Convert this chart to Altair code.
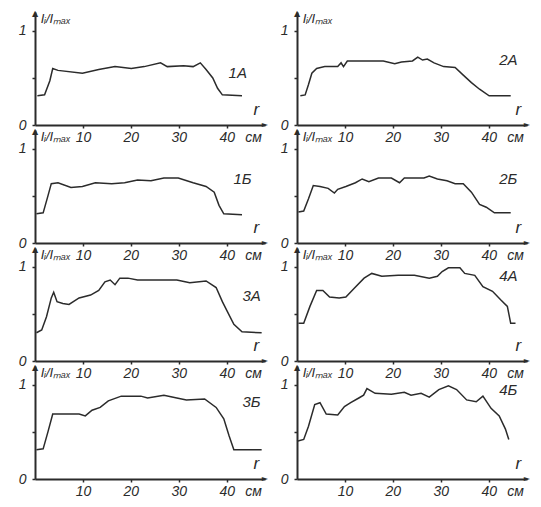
import altair as alt
import pandas as pd

INK = "#2b2b2b"
FONT = "Liberation Sans"

# ---- curves: radius r (cm) and relative intensity Ii/Imax ----
R_1A = [0.5, 2.0, 3.1, 3.7, 4.8, 9.9, 13.3, 16.7, 20.1, 22.8, 26.2, 27.6, 31.0, 33.0, 34.5, 35.7, 37.1, 38.1, 39.1, 43.2]
V_1A = [0.31, 0.32, 0.47, 0.60, 0.58, 0.55, 0.59, 0.62, 0.60, 0.62, 0.66, 0.62, 0.63, 0.62, 0.66, 0.59, 0.50, 0.39, 0.32, 0.31]

R_2A = [0.7, 1.7, 2.4, 3.1, 4.1, 5.8, 8.5, 9.2, 9.7, 10.5, 14.3, 18.0, 20.4, 21.8, 24.1, 25.2, 26.2, 27.2, 28.6, 30.6, 33.0, 34.7, 36.4, 38.1, 40.1, 44.6]
V_2A = [0.31, 0.32, 0.43, 0.55, 0.60, 0.62, 0.62, 0.66, 0.62, 0.68, 0.68, 0.68, 0.65, 0.67, 0.68, 0.72, 0.69, 0.70, 0.66, 0.62, 0.61, 0.53, 0.45, 0.38, 0.31, 0.31]

R_1B = [0.3, 1.7, 2.7, 3.4, 4.8, 7.5, 9.9, 12.6, 16.0, 18.7, 21.4, 24.2, 26.9, 29.9, 33.0, 35.7, 37.4, 38.4, 39.4, 43.2]
V_1B = [0.31, 0.32, 0.50, 0.63, 0.64, 0.59, 0.60, 0.64, 0.63, 0.64, 0.67, 0.66, 0.69, 0.69, 0.64, 0.60, 0.54, 0.40, 0.31, 0.30]

R_2B = [0.3, 1.4, 2.4, 3.4, 4.8, 6.5, 7.8, 8.5, 10.2, 12.2, 13.6, 15.0, 17.0, 19.7, 21.4, 22.4, 26.5, 27.6, 29.3, 31.3, 33.0, 34.7, 36.4, 38.1, 39.5, 41.2, 44.6]
V_2B = [0.33, 0.34, 0.47, 0.61, 0.60, 0.58, 0.53, 0.57, 0.60, 0.64, 0.68, 0.65, 0.69, 0.69, 0.64, 0.69, 0.69, 0.71, 0.68, 0.66, 0.63, 0.63, 0.54, 0.41, 0.38, 0.32, 0.32]

R_3A = [0.3, 1.4, 2.4, 3.4, 3.9, 4.6, 5.8, 7.1, 9.2, 11.6, 13.3, 14.6, 15.7, 16.7, 17.7, 19.4, 21.4, 25.5, 29.6, 32.3, 35.7, 37.8, 39.1, 40.1, 41.5, 43.2, 47.3]
V_3A = [0.30, 0.33, 0.47, 0.67, 0.73, 0.63, 0.61, 0.60, 0.67, 0.70, 0.75, 0.84, 0.86, 0.81, 0.88, 0.88, 0.86, 0.86, 0.86, 0.83, 0.85, 0.78, 0.63, 0.53, 0.39, 0.31, 0.30]

R_4A = [0.3, 1.4, 2.7, 4.1, 5.4, 6.8, 8.8, 10.2, 11.9, 14.0, 15.6, 17.7, 21.1, 24.5, 27.6, 29.3, 30.3, 31.6, 34.0, 35.0, 37.1, 38.8, 40.8, 42.5, 43.9, 44.6, 45.6]
V_4A = [0.40, 0.40, 0.58, 0.75, 0.75, 0.68, 0.67, 0.68, 0.77, 0.88, 0.93, 0.90, 0.91, 0.91, 0.88, 0.90, 0.95, 0.99, 0.99, 0.93, 0.91, 0.79, 0.74, 0.65, 0.58, 0.40, 0.40]

R_3B = [0.3, 1.7, 2.7, 3.7, 5.1, 9.2, 10.5, 11.9, 13.6, 15.3, 18.0, 22.1, 23.5, 26.9, 29.6, 31.6, 35.4, 37.8, 39.4, 40.5, 41.5, 47.3]
V_3B = [0.31, 0.32, 0.50, 0.69, 0.69, 0.69, 0.67, 0.73, 0.76, 0.83, 0.88, 0.88, 0.86, 0.89, 0.86, 0.84, 0.85, 0.76, 0.64, 0.46, 0.31, 0.31]

R_4B = [0.0, 1.4, 2.4, 3.7, 4.8, 6.1, 8.5, 9.9, 11.2, 12.9, 13.9, 14.6, 16.3, 19.7, 22.4, 23.8, 25.9, 27.6, 29.6, 31.6, 33.3, 35.4, 37.4, 38.8, 40.5, 42.2, 43.5, 44.2]
V_4B = [0.40, 0.42, 0.56, 0.79, 0.81, 0.69, 0.68, 0.77, 0.81, 0.86, 0.89, 0.96, 0.91, 0.90, 0.92, 0.89, 0.91, 0.87, 0.95, 0.99, 0.95, 0.84, 0.82, 0.88, 0.75, 0.67, 0.53, 0.42]

# panel order: row by row, left then right
NAMES = ["1А", "2А", "1Б", "2Б", "3А", "4А", "3Б", "4Б"]
CURVES_R = [R_1A, R_2A, R_1B, R_2B, R_3A, R_4A, R_3B, R_4B]
CURVES_V = [V_1A, V_2A, V_1B, V_2B, V_3A, V_4A, V_3B, V_4B]
NAME_R = [40.4, 42.2, 41.4, 42.2, 43.3, 42.2, 43.3, 42.2]
NAME_V = [0.55, 0.69, 0.68, 0.68, 0.69, 0.90, 0.82, 0.94]

TICKS_R = [10, 20, 30, 40]
TICKS_V = [0, 0.5, 1]
Y_TITLE = "Iᵢ/Iₘₐₓ"
X_NAME = "r"
UNIT = "см"
R_MAX = 48
V_MAX = 1.2

xscale = alt.Scale(domain=[0, R_MAX], nice=False, zero=False)
yscale = alt.Scale(domain=[0, V_MAX], nice=False)


def one_text(r, v, t, font=FONT, style="italic", color=INK, **kw):
    df = pd.DataFrame({"r": [r], "v": [v], "t": [t]})
    return alt.Chart(df).mark_text(font=font, fontStyle=style, color=color, **kw).encode(
        x="r:Q", y="v:Q", text="t:N")


def panel(i):
    curve = pd.DataFrame({"r": CURVES_R[i], "v": CURVES_V[i]})
    X = alt.X("r:Q", scale=xscale,
              axis=alt.Axis(values=TICKS_R, title=None, tickSize=3, labelPadding=2))
    Y = alt.Y("v:Q", scale=yscale,
              axis=alt.Axis(values=TICKS_V, title=None, tickSize=3, labelPadding=6,
                            labelExpr="datum.value == 0 ? '0' : (datum.value == 1 ? '1' : '')"))
    line = alt.Chart(curve).mark_line(color=INK, strokeWidth=1.5).encode(X, Y)

    up = one_text(0, V_MAX, "▲", font="DejaVu Sans", style="normal", fontSize=8,
                  align="center", baseline="top", dy=-2)
    right = one_text(R_MAX, 0, "►", font="DejaVu Sans", style="normal", fontSize=8,
                     align="right", baseline="middle", dx=3)

    tag = one_text(NAME_R[i], NAME_V[i], NAMES[i], fontSize=15, align="left", baseline="middle")
    ytitle = one_text(1.2, 1.13, Y_TITLE, fontSize=13, align="left", baseline="middle")
    unit = one_text(45.6, 0, UNIT, fontSize=14, align="center", baseline="top", dy=6)
    rname = one_text(46.2, 0, X_NAME, fontSize=17, align="center", baseline="bottom", dy=-6)

    return alt.layer(line, up, right, tag, ytitle, unit, rname).properties(width=230, height=113)


chart = alt.concat(
    *[panel(i) for i in range(8)], columns=2,
    spacing={"row": 5, "column": 32}, bounds="flush"
).properties(
    padding={"left": 10, "top": 2, "right": 0, "bottom": 0}
).configure_view(stroke=None).configure_axis(
    domainColor=INK, domainWidth=2, tickColor=INK, tickWidth=1.5,
    labelColor=INK, labelFont=FONT, labelFontStyle="italic", labelFontSize=14, grid=False
)

chart.save("out.html", embed_options={"renderer": "svg", "actions": False})
